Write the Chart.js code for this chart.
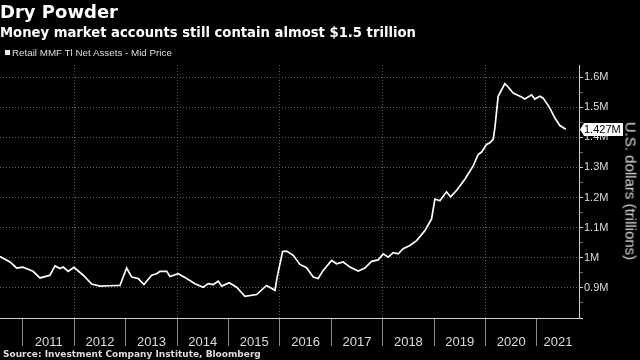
<!DOCTYPE html>
<html>
<head>
<meta charset="utf-8">
<script src="https://cdn.jsdelivr.net/npm/chart.js@4"></script>
<style>
  html, body { margin:0; padding:0; background:#000; }
  body { width:640px; height:360px; overflow:hidden; position:relative; font-family:'Liberation Sans', Arial, sans-serif; }
  #c { position:absolute; left:0; top:0; }
  .t { position:absolute; white-space:nowrap; line-height:1; }
  .dj { font-family:'DejaVu Sans', Verdana, sans-serif; font-weight:bold; }
  #title { left:0; top:3px; font-size:18px; color:#fff; }
  #sub { left:0; top:25.5px; font-size:13.2px; color:#fff; }
  #leg { left:12px; top:48px; font-size:9.8px; color:#ddd; }
  #legbox { position:absolute; left:5px; top:50px; width:5px; height:5px; background:#eee; }
  #src { left:3px; top:349.5px; font-size:9px; color:#ddd; }
  #ytitle { left:631px; top:191px; font-size:15px; color:#ddd; transform:translate(-50%,-50%) rotate(90deg); }
</style>
</head>
<body>
<canvas id="c" width="640" height="360"></canvas>
<div class="t dj" id="title">Dry Powder</div>
<div class="t dj" id="sub">Money market accounts still contain almost $1.5 trillion</div>
<div id="legbox"></div>
<div class="t" id="leg">Retail MMF Tl Net Assets - Mid Price</div>
<div class="t dj" id="src">Source: Investment Company Institute, Bloomberg</div>
<div class="t" id="ytitle">U.S. dollars (trillions)</div>
<script>
const years = [
  2010.553, 2010.747, 2010.877, 2011.000, 2011.195, 2011.331, 2011.525, 2011.623, 2011.720, 2011.784,
  2011.881, 2011.992, 2012.173, 2012.337, 2012.498, 2012.693, 2012.887, 2013.017, 2013.115, 2013.243,
  2013.354, 2013.504, 2013.601, 2013.665, 2013.796, 2013.860, 2014.021, 2014.185, 2014.346, 2014.508,
  2014.605, 2014.702, 2014.800, 2014.866, 2015.014, 2015.158, 2015.319, 2015.547, 2015.741, 2015.903,
  2015.947, 2016.052, 2016.130, 2016.259, 2016.389, 2016.519, 2016.648, 2016.745, 2016.842, 2017.006,
  2017.103, 2017.232, 2017.362, 2017.523, 2017.654, 2017.784, 2017.912, 2018.010, 2018.107, 2018.204,
  2018.302, 2018.399, 2018.529, 2018.660, 2018.821, 2018.951, 2019.016, 2019.113, 2019.243, 2019.321,
  2019.444, 2019.599, 2019.761, 2019.858, 2019.924, 2020.021, 2020.086, 2020.150, 2020.183, 2020.247,
  2020.377, 2020.442, 2020.539, 2020.702, 2020.767, 2020.897, 2020.961, 2021.058, 2021.123, 2021.253,
  2021.350, 2021.447, 2021.564
];
const netAssets = [
  1.004, 0.986, 0.966, 0.969, 0.955, 0.933, 0.942, 0.973, 0.964, 0.969,
  0.955, 0.968, 0.942, 0.913, 0.906, 0.907, 0.908, 0.966, 0.936, 0.931,
  0.911, 0.942, 0.947, 0.955, 0.955, 0.938, 0.947, 0.931, 0.914, 0.902,
  0.914, 0.911, 0.922, 0.906, 0.917, 0.902, 0.872, 0.878, 0.908, 0.892,
  0.936, 1.021, 1.022, 1.008, 0.978, 0.967, 0.936, 0.931, 0.958, 0.991,
  0.980, 0.986, 0.969, 0.956, 0.966, 0.988, 0.993, 1.013, 1.002, 1.017,
  1.013, 1.030, 1.041, 1.057, 1.090, 1.129, 1.195, 1.189, 1.219, 1.202,
  1.225, 1.261, 1.305, 1.343, 1.351, 1.376, 1.382, 1.393, 1.431, 1.536,
  1.578, 1.567, 1.547, 1.534, 1.527, 1.541, 1.527, 1.536, 1.530, 1.497,
  1.464, 1.439, 1.427
];
const yearLabels = ['2011','2012','2013','2014','2015','2016','2017','2018','2019','2020','2021'];
const yTicks = [0.9, 1.0, 1.1, 1.2, 1.3, 1.4, 1.5, 1.6];
const lastLabel = '1.427M';

const X_MIN = 2010.553, X_MAX = 2021.82;
const Y_MIN = 0.8, Y_MAX = 1.64;

const isInt = v => Math.abs(v - Math.round(v)) < 1e-6;
const isMajorY = v => Math.abs(v * 10 - Math.round(v * 10)) < 1e-6;

const lastValuePlugin = {
  id: 'lastValue',
  afterDraw(chart) {
    const ys = chart.scales.y;
    const xs = chart.scales.x;
    const ctx = chart.ctx;
    const v = netAssets[netAssets.length - 1];
    const py = Math.round(ys.getPixelForValue(v)) + 0.5;
    const tip = xs.right + 1;
    const h = 13, left = tip + 4, right = 623;
    ctx.save();
    ctx.fillStyle = '#fff';
    ctx.beginPath();
    ctx.moveTo(tip, py);
    ctx.lineTo(left, py - h / 2);
    ctx.lineTo(right, py - h / 2);
    ctx.lineTo(right, py + h / 2);
    ctx.lineTo(left, py + h / 2);
    ctx.closePath();
    ctx.fill();
    ctx.fillStyle = '#000';
    ctx.font = "11px 'Liberation Sans', Arial, sans-serif";
    ctx.textBaseline = 'middle';
    ctx.textAlign = 'left';
    ctx.fillText(lastLabel, left, py + 0.5);
    ctx.restore();
  }
};

new Chart(document.getElementById('c'), {
  type: 'line',
  data: {
    datasets: [{
      data: years.map((x, i) => ({ x, y: netAssets[i] })),
      borderColor: '#fff',
      borderWidth: 1.7,
      pointRadius: 0,
      tension: 0,
      fill: false
    }]
  },
  options: {
    responsive: false,
    animation: false,
    devicePixelRatio: 1,
    layout: { padding: { top: 65, left: 0, right: 0, bottom: 0 } },
    plugins: { legend: { display: false }, tooltip: { enabled: false }, title: { display: false } },
    scales: {
      x: {
        type: 'linear',
        position: 'bottom',
        min: X_MIN,
        max: X_MAX,
        afterFit: s => { s.height = 42; },
        afterBuildTicks: s => {
          const t = [];
          yearLabels.forEach((lab) => {
            const y0 = +lab;
            t.push({ value: y0 });
            const y1 = Math.min(y0 + 1, X_MAX);
            t.push({ value: (y0 + y1) / 2 });
          });
          s.ticks = t;
        },
        grid: {
          color: c => (c.tick && isInt(c.tick.value) && Math.round(c.tick.value) % 2 === 0) ? '#5c5c5c' : 'rgba(0,0,0,0)',
          tickColor: c => (c.tick && isInt(c.tick.value)) ? '#8a8a8a' : 'rgba(0,0,0,0)',
          tickLength: 28,
          lineWidth: 1,
          tickBorderDash: []
        },
        border: { color: '#cfcfcf', width: 1, dash: [1, 2] },
        ticks: {
          autoSkip: false,
          maxRotation: 0,
          padding: -11,
          color: '#dcdcdc',
          font: { family: "'Liberation Sans Narrow', 'Liberation Sans', Arial, sans-serif", size: 13 },
          callback: v => isInt(v) ? '' : String(Math.floor(v))
        }
      },
      y: {
        type: 'linear',
        position: 'right',
        min: Y_MIN,
        max: Y_MAX,
        afterFit: s => { s.width = 61; },
        afterBuildTicks: s => {
          const t = [];
          for (let i = 0; i <= 16; i++) t.push({ value: Math.round((0.8 + i * 0.05) * 100) / 100 });
          s.ticks = t;
        },
        grid: {
          color: c => (c.tick && isMajorY(c.tick.value) && c.tick.value > 0.85) ? '#5c5c5c' : 'rgba(0,0,0,0)',
          tickColor: c => (c.tick && isMajorY(c.tick.value)) ? '#cfcfcf' : '#6a6a6a',
          tickLength: 4,
          lineWidth: 1,
          tickBorderDash: []
        },
        border: { color: '#cfcfcf', width: 1, dash: [1, 2] },
        ticks: {
          autoSkip: false,
          padding: 1,
          color: '#dcdcdc',
          font: { family: "'Liberation Sans', Arial, sans-serif", size: 11 },
          callback: v => (isMajorY(v) && yTicks.some(t => Math.abs(t - v) < 1e-6)) ? (+v.toFixed(1)) + 'M' : ''
        }
      }
    }
  },
  plugins: [lastValuePlugin]
});
</script>
</body>
</html>
